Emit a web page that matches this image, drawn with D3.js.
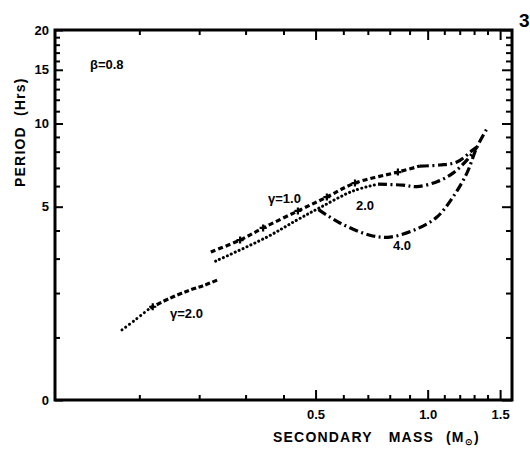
<!DOCTYPE html>
<html><head><meta charset="utf-8">
<script src="https://cdn.jsdelivr.net/npm/d3@7"></script>
<style>
body{margin:0;background:#fff}
svg{display:block}
text{font-family:"Liberation Sans",Arial,sans-serif;font-weight:bold;fill:#000}
</style></head><body>
<svg id="c" width="530" height="449"></svg>
<script>
// ---- tick values ----
const massMajorTicks = [0.5, 1.0, 1.5];
const massMinorTicks = [0.1, 0.2, 0.3, 0.4, 0.6, 0.7, 0.8, 0.9, 1.1, 1.2, 1.3, 1.4];
const periodMajorTicks = [0, 5, 10, 15, 20];
const periodMinorTicks = [1, 2, 3, 4, 6, 7, 8, 9, 11, 12, 13, 14, 16, 17, 18, 19];

// ---- series (secondary mass in Msun, period in hours) ----
const lowDottedMass   = [0.076, 0.094, 0.116];
const lowDottedPeriod = [1.15, 1.36, 1.63];
const lowDashedMass   = [0.116, 0.148, 0.183, 0.211, 0.236];
const lowDashedPeriod = [1.63, 1.87, 2.08, 2.21, 2.35];

const g1DashedMass   = [0.223, 0.287, 0.344, 0.443, 0.539, 0.646, 0.840, 0.956];
const g1DashedPeriod = [3.22, 3.64, 4.10, 4.81, 5.45, 6.16, 6.76, 7.11];
const g1DashDotMass   = [0.956, 1.073, 1.181, 1.290, 1.321];
const g1DashDotPeriod = [7.11, 7.17, 7.35, 8.10, 8.30];
const g1CrossMass   = [0.287, 0.344, 0.443, 0.539, 0.646, 0.840];
const g1CrossPeriod = [3.64, 4.10, 4.81, 5.45, 6.16, 6.76];

const g2DottedMass   = [0.233, 0.354, 0.440, 0.518, 0.638, 0.745];
const g2DottedPeriod = [2.92, 3.75, 4.42, 4.98, 5.75, 6.10];
const g2DashDotMass   = [0.745, 0.865, 0.939, 1.055, 1.155, 1.249, 1.321];
const g2DashDotPeriod = [6.10, 6.05, 5.97, 6.23, 6.70, 7.47, 8.30];

const g4DashDotMass   = [0.510, 0.587, 0.709, 0.801, 0.939, 1.055, 1.155, 1.249, 1.321, 1.403];
const g4DashDotPeriod = [4.87, 4.30, 3.82, 3.75, 4.06, 4.55, 5.45, 6.70, 8.30, 9.73];

const lowCrossMass = [0.120];
const lowCrossPeriod = [1.66];

// ---- scales (axes are log(M+0.2) and log(P+2)) ----
const MASS_OFFSET = 0.2, PERIOD_OFFSET = 2;
const W = 530, H = 449;
const L = 55, R = 512, T = 30, B = 400;
const xS = d3.scaleLog().domain([0 + MASS_OFFSET, 1.6 + MASS_OFFSET]).range([L, R]);
const yS = d3.scaleLog().domain([0 + PERIOD_OFFSET, 20 + PERIOD_OFFSET]).range([B, T]);
const x = m => xS(m + MASS_OFFSET);
const y = p => yS(p + PERIOD_OFFSET);

const svg = d3.select("#c");
svg.append("rect").attr("width", W).attr("height", H).attr("fill", "#fff");

function styleAxis(g) {
  g.select(".domain").remove();
  g.selectAll(".tick line").attr("stroke", "#000").attr("stroke-width", 2);
  g.selectAll(".tick text").style("font-size", "13px").attr("fill", "#000");
}
const fmtM = v => d3.format(".1f")(v - MASS_OFFSET);
const fmtP = v => d3.format("d")(v - PERIOD_OFFSET);

// bottom
svg.append("g").attr("transform", `translate(0,${B})`)
  .call(d3.axisBottom(xS).tickValues(massMajorTicks.map(v => v + MASS_OFFSET)).tickFormat(fmtM).tickSize(-10).tickPadding(10))
  .call(styleAxis);
svg.append("g").attr("transform", `translate(0,${B})`)
  .call(d3.axisBottom(xS).tickValues(massMinorTicks.map(v => v + MASS_OFFSET)).tickFormat("").tickSize(-5))
  .call(styleAxis);
// top
svg.append("g").attr("transform", `translate(0,${T})`)
  .call(d3.axisTop(xS).tickValues(massMajorTicks.map(v => v + MASS_OFFSET)).tickFormat("").tickSize(-10))
  .call(styleAxis);
svg.append("g").attr("transform", `translate(0,${T})`)
  .call(d3.axisTop(xS).tickValues(massMinorTicks.map(v => v + MASS_OFFSET)).tickFormat("").tickSize(-5))
  .call(styleAxis);
// left
svg.append("g").attr("transform", `translate(${L},0)`)
  .call(d3.axisLeft(yS).tickValues(periodMajorTicks.map(v => v + PERIOD_OFFSET)).tickFormat(fmtP).tickSize(-8).tickPadding(6))
  .call(styleAxis);
svg.append("g").attr("transform", `translate(${L},0)`)
  .call(d3.axisLeft(yS).tickValues(periodMinorTicks.map(v => v + PERIOD_OFFSET)).tickFormat("").tickSize(-5))
  .call(styleAxis);
// right
svg.append("g").attr("transform", `translate(${R},0)`)
  .call(d3.axisRight(yS).tickValues(periodMajorTicks.map(v => v + PERIOD_OFFSET)).tickFormat("").tickSize(-10))
  .call(styleAxis);
svg.append("g").attr("transform", `translate(${R},0)`)
  .call(d3.axisRight(yS).tickValues(periodMinorTicks.map(v => v + PERIOD_OFFSET)).tickFormat("").tickSize(-6))
  .call(styleAxis);

// frame
svg.append("rect").attr("x", L).attr("y", T).attr("width", R - L).attr("height", B - T)
  .attr("fill", "none").attr("stroke", "#000").attr("stroke-width", 3);

// curves
const line = d3.line().x(d => x(d[0])).y(d => y(d[1])).curve(d3.curveCatmullRom.alpha(0.5));
const zip = (a, b) => a.map((v, i) => [v, b[i]]);
function drawCurve(mass, period, dash, width, cap) {
  svg.append("path").datum(zip(mass, period)).attr("d", line)
    .attr("fill", "none").attr("stroke", "#000").attr("stroke-width", width)
    .attr("stroke-dasharray", dash).attr("stroke-linecap", cap || "butt");
}
const DOT = "0.1 4.2", DASH = "5 3", DASHDOT = "9 3.5 2 3.5";
drawCurve(lowDottedMass, lowDottedPeriod, "0.1 4.6", 3, "round");
drawCurve(lowDashedMass, lowDashedPeriod, "5 2.5", 3.2);
drawCurve(g1DashedMass, g1DashedPeriod, DASH, 3.2);
drawCurve(g1DashDotMass, g1DashDotPeriod, DASHDOT, 3.2);
drawCurve(g2DottedMass, g2DottedPeriod, DOT, 3, "round");
drawCurve(g2DashDotMass, g2DashDotPeriod, DASHDOT, 3.2);
drawCurve(g4DashDotMass, g4DashDotPeriod, DASHDOT, 3.2);

// cross markers
function crosses(mass, period, s) {
  svg.append("g").selectAll("path").data(zip(mass, period)).join("path")
    .attr("d", d => `M${x(d[0]) - s},${y(d[1])}H${x(d[0]) + s}M${x(d[0])},${y(d[1]) - s}V${y(d[1]) + s}`)
    .attr("stroke", "#000").attr("stroke-width", 2.2).attr("fill", "none");
}
crosses(g1CrossMass, g1CrossPeriod, 3.5);
crosses(lowCrossMass, lowCrossPeriod, 3.5);

// labels
function label(tx, ty, str, size) {
  svg.append("text").attr("x", tx).attr("y", ty).style("font-size", (size || 13) + "px").text(str);
}
label(90, 69, "β=0.8", 13);
label(268, 203, "γ=1.0", 13);
label(356, 210, "2.0", 13);
label(393, 250, "4.0", 13);
label(170, 318, "γ=2.0", 13);
svg.append("text").attr("x", 519).attr("y", 27).style("font-size", "19px").text("3");

// axis titles
const xt = svg.append("text").attr("x", 273).attr("y", 442).style("font-size", "14px").style("letter-spacing", "1.2px");
xt.append("tspan").text("SECONDARY");
xt.append("tspan").attr("dx", 16).text("MASS");
xt.append("tspan").attr("dx", 12).text("(M");
xt.append("tspan").attr("dy", 3).style("font-size", "9px").text("⊙");
xt.append("tspan").attr("dy", -3).text(")");

const yt = svg.append("text").attr("transform", "translate(25,187) rotate(-90)").style("font-size", "14px").style("letter-spacing", "1.2px");
yt.append("tspan").text("PERIOD");
yt.append("tspan").attr("dx", 10).text("(Hrs)");
</script>
</body></html>
